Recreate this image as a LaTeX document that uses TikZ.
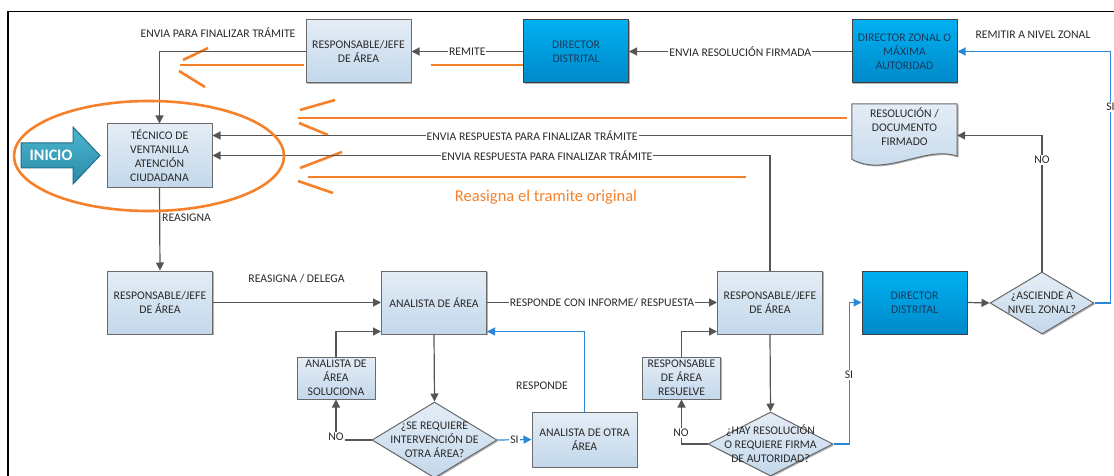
\documentclass[tikz,border=0pt]{standalone}
\usepackage{fontspec}
\setmainfont{Carlito}
\usetikzlibrary{arrows.meta,shapes.geometric,shadows,calc}
\definecolor{boxtop}{HTML}{E4EDF6}
\definecolor{boxbot}{HTML}{C3D8EB}
\definecolor{dirtop}{HTML}{00B0F0}
\definecolor{dirbot}{HTML}{0089CA}
\definecolor{linegray}{HTML}{555555}
\definecolor{edgegray}{HTML}{6A6A6A}
\definecolor{flowblue}{HTML}{2B88D8}
\definecolor{orangeA}{HTML}{F5822A}
\definecolor{txt}{HTML}{2A2A2A}
\definecolor{dirtxt}{HTML}{1B3A5E}
\definecolor{initop}{HTML}{4DB5D0}
\definecolor{inibot}{HTML}{2A8BA8}
\definecolor{iniedge}{HTML}{236F87}
\tikzset{
  fnt/.style={font=\fontsize{11.7}{14}\selectfont},
  base/.style={fnt, draw=edgegray, line width=1pt, top color=boxtop, bottom color=boxbot, inner sep=1pt, align=center, text=txt,
    drop shadow={shadow xshift=1.3pt, shadow yshift=-1.3pt, opacity=0.3, fill=black}},
  box/.style={base, rectangle, minimum width=105pt, minimum height=63pt},
  sbox/.style={base, rectangle, minimum width=78pt, minimum height=42pt},
  dirbox/.style={box, top color=dirtop, bottom color=dirbot, draw=black!75, text=dirtxt},
  dia/.style={base, diamond, inner sep=0pt},
  dtext/.style={fnt, align=center, text=txt, inner sep=0pt},
  conn/.style={draw=linegray, line width=1.2pt, -{Triangle[length=8pt,width=8pt]}},
  bconn/.style={conn, draw=flowblue},
  lab/.style={fnt, text=txt, inner sep=1pt},
  onlab/.style={lab, fill=white, inner sep=1pt},
  orangestroke/.style={draw=orangeA, line width=2.6pt},
}
\begin{document}
\begin{tikzpicture}[x=1pt,y=-1pt]
\useasboundingbox (0,0) rectangle (1114,476);
\fill[white] (0,0) rectangle (1114,476);
\draw[line width=1.6pt, black] (8,480) -- (8,11.5) -- (1120,11.5);

% orange annotation arrows
\draw[orangestroke] (180,65) -- (304,65);
\draw[orangestroke] (431,65) -- (523,65);
\draw[orangestroke] (183,60) -- (208,48);
\draw[orangestroke] (179,71) -- (205,87);
\draw[orangestroke] (298,118) -- (847,118);
\draw[orangestroke] (300,110) -- (335,100);
\draw[orangestroke] (299,123) -- (328,135);
\draw[orangestroke] (308,177) -- (746,177);
\draw[orangestroke] (300,168) -- (342,152);
\draw[orangestroke] (298,181) -- (333,193);
\node[font=\fontsize{16.5}{18}\selectfont, text=orangeA] (reas) at (546,197) {Reasigna el tramite original};

% boxes
\node[box] (tec) at (159.5,155.5) {TÉCNICO DE\\VENTANILLA\\ATENCIÓN\\CIUDADANA};
\node[box] (r1) at (358.5,51.5) {RESPONSABLE/JEFE\\DE ÁREA};
\node[dirbox] (dd1) at (576,51.5) {DIRECTOR\\DISTRITAL};
\node[dirbox] (dz) at (904.5,51.5) {DIRECTOR ZONAL O\\MÁXIMA\\AUTORIDAD};
\node[minimum width=105pt, minimum height=63pt, inner sep=0pt] (res) at (904.5,135.5) {};
\path[base] (res.north west) -- (res.north east) -- ($(res.south east)+(0,-11)$)
  .. controls (925,145) and (885,178) .. ($(res.south west)+(0,-8)$) -- cycle;
\node[dtext] (restext) at (904.5,127) {RESOLUCIÓN /\\DOCUMENTO\\FIRMADO};
\node[box] (r2) at (160,302.5) {RESPONSABLE/JEFE\\DE ÁREA};
\node[box] (an) at (434,302.5) {ANALISTA DE ÁREA};
\node[box] (r3) at (770,302.5) {RESPONSABLE/JEFE\\DE ÁREA};
\node[dirbox] (dd2) at (914.5,302.5) {DIRECTOR\\DISTRITAL};
\node[dia, minimum width=104pt, minimum height=62pt] (asc) at (1042,303) {};
\node[dtext] (asct) at (1042,302.5) {¿ASCIENDE A\\NIVEL ZONAL?};
\node[sbox] (sol) at (336,378) {ANALISTA DE\\ÁREA\\SOLUCIONA};
\node[dia, minimum width=125pt, minimum height=76pt] (q1) at (434.5,440) {};
\node[dtext] (q1t) at (434.5,439.5) {¿SE REQUIERE\\INTERVENCIÓN DE\\OTRA ÁREA?};
\node[box, minimum height=55pt] (oa) at (584.5,439.5) {ANALISTA DE OTRA\\ÁREA};
\node[sbox] (rr) at (681.5,378) {RESPONSABLE\\DE ÁREA\\RESUELVE};
\node[dia, minimum width=125pt, minimum height=64pt] (q2) at (770.5,444) {};
\node[dtext] (q2t) at (770.5,444) {¿HAY RESOLUCIÓN\\O REQUIERE FIRMA\\DE AUTORIDAD?};

% connectors
\draw[conn] (r1.west) -| (tec.north);
\node[lab] (l1) at (218,33) {ENVIA PARA FINALIZAR TRÁMITE};
\draw[conn] (dd1.west) -- node[onlab] (l2) {REMITE} (r1.east);
\draw[conn] (dz.west) -- node[onlab] (l3) {ENVIA RESOLUCIÓN FIRMADA} (dd1.east);
\draw[bconn] (asc.east) -- ++(16,0) |- node[onlab, pos=0.39] (l4) {SI} (dz.east);
\node[lab] (l5) at (1033,35) {REMITIR A NIVEL ZONAL};
\draw[conn] (asc.north) |- node[onlab, pos=0.41] (l6) {NO} (res.east);
\draw[conn] (res.west) -- node[onlab] (l7) {ENVIA RESPUESTA PARA FINALIZAR TRÁMITE} (res.west -| tec.east);
\draw[conn] (r3.north) |- node[onlab, pos=0.7] (l8) {ENVIA RESPUESTA PARA FINALIZAR TRÁMITE} (tec.east);
\draw[conn] (tec.south) -- (r2.north);
\node[lab, anchor=west] (l9) at (161,218) {REASIGNA};
\draw[conn] (r2.east) -- (an.west);
\node[lab] (l10) at (296.5,279) {REASIGNA / DELEGA};
\draw[conn] (an.east) -- node[onlab] (l11) {RESPONDE CON INFORME/ RESPUESTA} (r3.west);
\draw[conn] (an.south) -- (q1.north);
\draw[bconn] (q1.east) -- node[onlab] (l12) {SI} (oa.west);
\draw[bconn] (oa.north) |- ($(an.south east)+(0,-3)$);
\node[lab] (l13) at (542,386) {RESPONDE};
\draw[conn] (q1.west) -| (sol.south);
\node[onlab] (l14) at (336,437) {NO};
\draw[conn] (sol.north) |- ($(an.south west)+(0,-3)$);
\draw[conn] (r3.south) -- (q2.north);
\draw[conn] (q2.west) -| (rr.south);
\node[onlab] (l15) at (681,433) {NO};
\draw[conn] (rr.north) |- ($(r3.south west)+(0,-3)$);
\draw[bconn] (q2.east) -- ++(16,0) |- (dd2.west);
\node[onlab] (l16) at (849,375) {SI};
\draw[conn] (dd2.east) -- (asc.west);

% INICIO and ellipse
\draw[orangestroke] (149,156) ellipse [x radius=135pt, y radius=55pt];
\draw[draw=iniedge, line width=1pt, top color=initop, bottom color=inibot]
  (21,143) -- (73,143) -- (73,127) -- (100,155.5) -- (73,184) -- (73,168) -- (21,168) -- cycle;
\node[font=\fontsize{16}{18}\selectfont\bfseries, text=white] (inicio) at (51,155.5) {INICIO};
\end{tikzpicture}
\end{document}
